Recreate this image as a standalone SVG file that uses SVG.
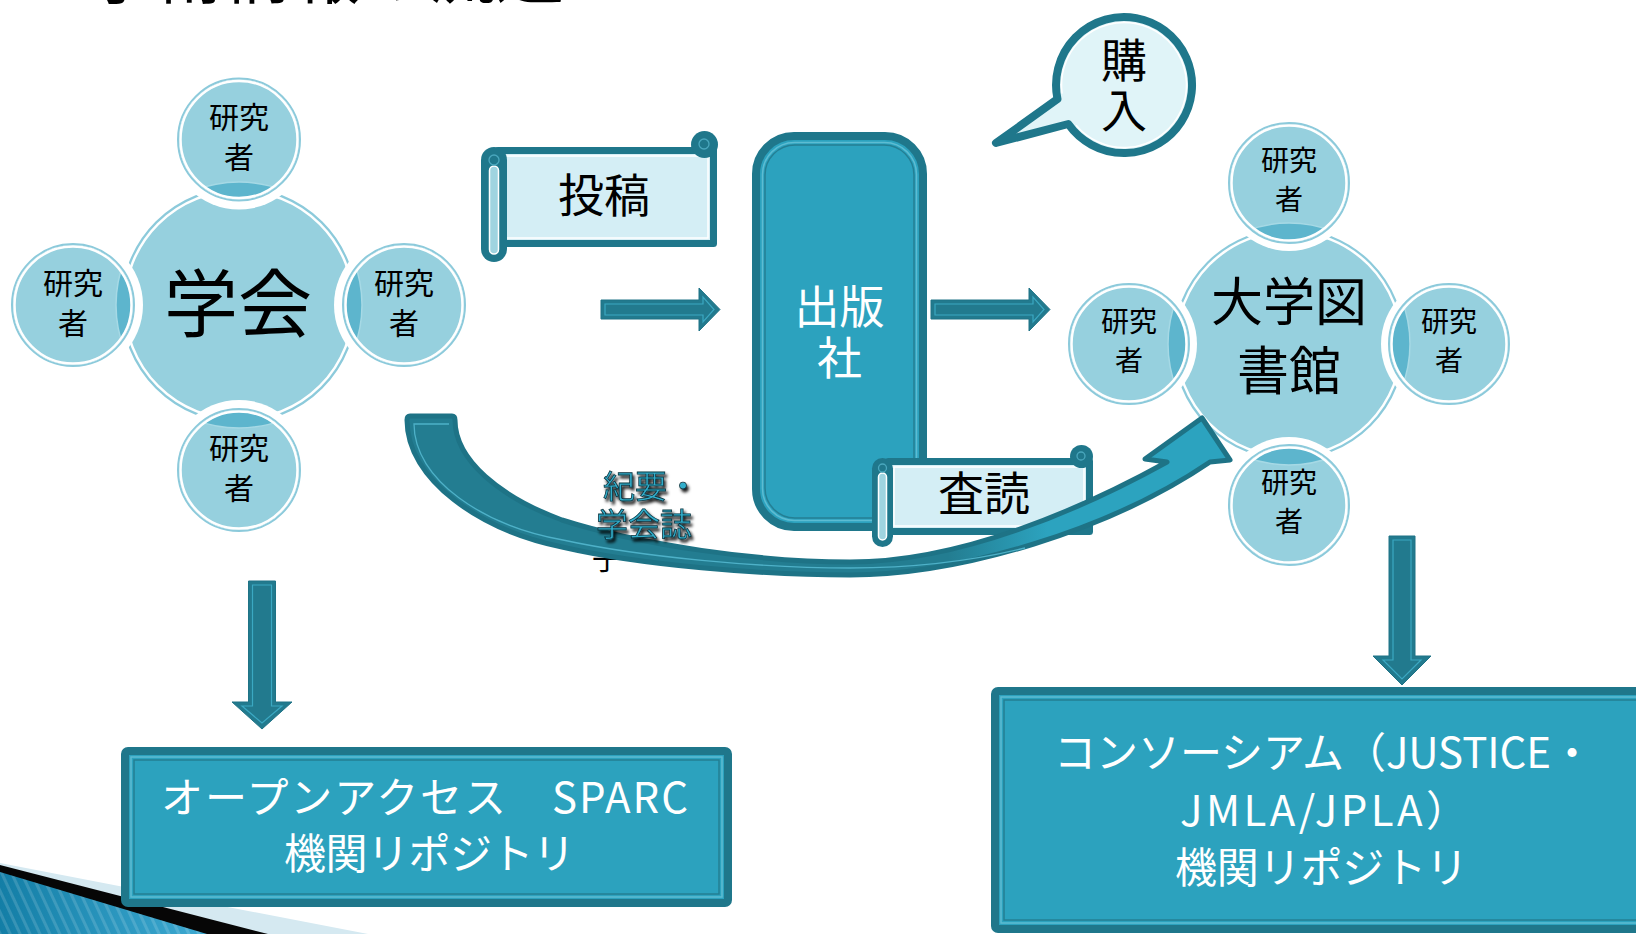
<svg xmlns="http://www.w3.org/2000/svg" width="1636" height="934" viewBox="0 0 1636 934">
<defs>
<style>
.t{font-family:"Noto Sans CJK JP","Noto Sans CJK SC",sans-serif;}
.sat{fill:#96d0de;}
.satline{fill:none;stroke:#8ccadb;stroke-width:2;}
.satin{fill:none;stroke:#ffffff;stroke-width:2.5;}
.gap{fill:#ffffff;}
.lens{fill:#5db5cd;}
.lensarc{fill:none;stroke:#a6d9e5;stroke-width:1.5;}
.st{font-size:30px;fill:#000;text-anchor:middle;}
.st2{font-size:28px;fill:#000;text-anchor:middle;}
.dark{fill:#1f778b;}
.box{fill:#2ca2be;stroke:#1f778b;stroke-width:8;}
.boxl1{fill:none;stroke:#5dbcd2;stroke-width:1.5;}
.boxl2{fill:none;stroke:#237f93;stroke-width:1.5;}
.arr{fill:#227a8e;stroke:#1f7386;stroke-width:1;}
.arrin{fill:none;stroke:#3ba8c2;stroke-width:1.2;}
.scroll{fill:#d4eef5;stroke:#1f778b;stroke-width:7;stroke-linejoin:round;}
.scrin{fill:none;stroke:#ffffff;stroke-width:1.5;}
.tube{fill:#9fd4e0;stroke:#ffffff;stroke-width:1.5;}
.curlc{fill:none;stroke:#4aa7bd;stroke-width:1.3;}
.wt{font-size:42px;fill:#fff;}
.bt{font-size:46px;fill:#000;text-anchor:middle;}
</style>
<clipPath id="cL1"><circle cx="239" cy="139.5" r="58"/></clipPath>
<clipPath id="cL2"><circle cx="73" cy="305" r="58"/></clipPath>
<clipPath id="cL3"><circle cx="404" cy="305" r="58"/></clipPath>
<clipPath id="cL4"><circle cx="239" cy="470" r="58"/></clipPath>
<clipPath id="cR1"><circle cx="1289" cy="183" r="57"/></clipPath>
<clipPath id="cR2"><circle cx="1129" cy="344" r="57"/></clipPath>
<clipPath id="cR3"><circle cx="1449" cy="344" r="57"/></clipPath>
<clipPath id="cR4"><circle cx="1289" cy="505" r="57"/></clipPath>
<linearGradient id="bandg" gradientUnits="userSpaceOnUse" x1="400" y1="0" x2="1230" y2="0">
<stop offset="0" stop-color="#237d91"/>
<stop offset="0.66" stop-color="#237d91"/>
<stop offset="0.78" stop-color="#2ca3bf"/>
<stop offset="1" stop-color="#2ca3bf"/>
</linearGradient>
<linearGradient id="blueg" gradientUnits="userSpaceOnUse" x1="0" y1="0" x2="210" y2="0">
<stop offset="0" stop-color="#137ea6"/>
<stop offset="1" stop-color="#3eaad2"/>
</linearGradient>
<pattern id="stripes" width="9" height="9" patternUnits="userSpaceOnUse" patternTransform="rotate(-25)">
<rect width="3" height="9" fill="#ffffff" opacity="0.14"/>
</pattern>
<filter id="ts" x="-20%" y="-30%" width="140%" height="160%">
<feDropShadow dx="2" dy="3" stdDeviation="1.4" flood-color="#000" flood-opacity="0.9"/>
</filter>
</defs>

<rect width="1636" height="934" fill="#ffffff"/>

<text class="t" x="88" y="-2" font-size="68" fill="#000">学術情報の流通</text>

<g id="decor">
<polygon points="0,863 368,934 0,934" fill="#d5e9f1"/>
<polygon points="0,865 268,934 0,934" fill="#060606"/>
<polygon points="0,872 207,934 0,934" fill="url(#blueg)"/>
<polygon points="0,872 207,934 0,934" fill="url(#stripes)"/>
</g>

<g id="gakkai">
<circle cx="239" cy="305" r="117" class="sat"/>
<circle cx="239" cy="305" r="117" class="satline"/>
<circle cx="239" cy="305" r="114.5" class="satin"/>
<text class="t" x="238" y="331" font-size="74" text-anchor="middle" fill="#000">学会</text>
</g>
<g id="gakkai-res-top">
<circle cx="239" cy="139.5" r="70" class="gap"/>
<circle cx="239" cy="139.5" r="60" class="sat"/>
<circle cx="239" cy="305" r="123" class="lens" clip-path="url(#cL1)"/>
<circle cx="239" cy="305" r="123" class="lensarc" clip-path="url(#cL1)"/>
<circle cx="239" cy="139.5" r="61" class="satline"/>
<circle cx="239" cy="139.5" r="58.5" class="satin"/>
<text class="t st"><tspan x="239" y="128">研究</tspan><tspan x="239" y="168">者</tspan></text>
</g>
<g id="gakkai-res-left">
<circle cx="73" cy="305" r="70" class="gap"/>
<circle cx="73" cy="305" r="60" class="sat"/>
<circle cx="239" cy="305" r="123" class="lens" clip-path="url(#cL2)"/>
<circle cx="239" cy="305" r="123" class="lensarc" clip-path="url(#cL2)"/>
<circle cx="73" cy="305" r="61" class="satline"/>
<circle cx="73" cy="305" r="58.5" class="satin"/>
<text class="t st"><tspan x="73" y="293.5">研究</tspan><tspan x="73" y="333.5">者</tspan></text>
</g>
<g id="gakkai-res-right">
<circle cx="404" cy="305" r="70" class="gap"/>
<circle cx="404" cy="305" r="60" class="sat"/>
<circle cx="239" cy="305" r="123" class="lens" clip-path="url(#cL3)"/>
<circle cx="239" cy="305" r="123" class="lensarc" clip-path="url(#cL3)"/>
<circle cx="404" cy="305" r="61" class="satline"/>
<circle cx="404" cy="305" r="58.5" class="satin"/>
<text class="t st"><tspan x="404" y="293.5">研究</tspan><tspan x="404" y="333.5">者</tspan></text>
</g>
<g id="gakkai-res-bottom">
<circle cx="239" cy="470" r="70" class="gap"/>
<circle cx="239" cy="470" r="60" class="sat"/>
<circle cx="239" cy="305" r="123" class="lens" clip-path="url(#cL4)"/>
<circle cx="239" cy="305" r="123" class="lensarc" clip-path="url(#cL4)"/>
<circle cx="239" cy="470" r="61" class="satline"/>
<circle cx="239" cy="470" r="58.5" class="satin"/>
<text class="t st"><tspan x="239" y="458.5">研究</tspan><tspan x="239" y="498.5">者</tspan></text>
</g>

<g id="library">
<circle cx="1289" cy="344" r="115" class="sat"/>
<circle cx="1289" cy="344" r="115" class="satline"/>
<circle cx="1289" cy="344" r="112.5" class="satin"/>
<text class="t" font-size="52" text-anchor="middle" fill="#000"><tspan x="1289" y="321">大学図</tspan><tspan x="1289" y="390">書館</tspan></text>
</g>
<g id="library-res-top">
<circle cx="1289" cy="183" r="68" class="gap"/>
<circle cx="1289" cy="183" r="59" class="sat"/>
<circle cx="1289" cy="344" r="121" class="lens" clip-path="url(#cR1)"/>
<circle cx="1289" cy="344" r="121" class="lensarc" clip-path="url(#cR1)"/>
<circle cx="1289" cy="183" r="60" class="satline"/>
<circle cx="1289" cy="183" r="57.5" class="satin"/>
<text class="t st2"><tspan x="1289" y="171">研究</tspan><tspan x="1289" y="209.5">者</tspan></text>
</g>
<g id="library-res-left">
<circle cx="1129" cy="344" r="68" class="gap"/>
<circle cx="1129" cy="344" r="59" class="sat"/>
<circle cx="1289" cy="344" r="121" class="lens" clip-path="url(#cR2)"/>
<circle cx="1289" cy="344" r="121" class="lensarc" clip-path="url(#cR2)"/>
<circle cx="1129" cy="344" r="60" class="satline"/>
<circle cx="1129" cy="344" r="57.5" class="satin"/>
<text class="t st2"><tspan x="1129" y="332">研究</tspan><tspan x="1129" y="370.5">者</tspan></text>
</g>
<g id="library-res-right">
<circle cx="1449" cy="344" r="68" class="gap"/>
<circle cx="1449" cy="344" r="59" class="sat"/>
<circle cx="1289" cy="344" r="121" class="lens" clip-path="url(#cR3)"/>
<circle cx="1289" cy="344" r="121" class="lensarc" clip-path="url(#cR3)"/>
<circle cx="1449" cy="344" r="60" class="satline"/>
<circle cx="1449" cy="344" r="57.5" class="satin"/>
<text class="t st2"><tspan x="1449" y="332">研究</tspan><tspan x="1449" y="370.5">者</tspan></text>
</g>
<g id="library-res-bottom">
<circle cx="1289" cy="505" r="68" class="gap"/>
<circle cx="1289" cy="505" r="59" class="sat"/>
<circle cx="1289" cy="344" r="121" class="lens" clip-path="url(#cR4)"/>
<circle cx="1289" cy="344" r="121" class="lensarc" clip-path="url(#cR4)"/>
<circle cx="1289" cy="505" r="60" class="satline"/>
<circle cx="1289" cy="505" r="57.5" class="satin"/>
<text class="t st2"><tspan x="1289" y="493">研究</tspan><tspan x="1289" y="531.5">者</tspan></text>
</g>

<g id="toukou">
<rect x="498" y="150.5" width="215.5" height="93" class="scroll"/>
<rect x="504" y="156" width="204" height="82" class="scrin"/>
<circle cx="704.5" cy="144.5" r="13.5" class="dark"/>
<circle cx="704" cy="144" r="5" class="curlc"/>
<rect x="481" y="147" width="26" height="115" rx="13" class="dark"/>
<rect x="489.5" y="166" width="9" height="88" rx="4.5" class="tube"/>
<circle cx="494" cy="160" r="5" class="curlc"/>
<text class="t bt" x="604" y="212">投稿</text>
</g>

<g id="publisher">
<rect x="756" y="136" width="167" height="391" rx="38" fill="#2ca2be" stroke="#1f778b" stroke-width="8"/>
<rect x="762.5" y="142.5" width="154" height="378" rx="32" fill="none" stroke="#5dbcd2" stroke-width="1.5"/>
<rect x="765" y="145" width="149" height="373" rx="30" fill="none" stroke="#247f94" stroke-width="1.5"/>
<text class="t" font-size="45" text-anchor="middle" fill="#fff"><tspan x="839.5" y="324">出版</tspan><tspan x="839.5" y="375">社</tspan></text>
</g>

<g id="sadoku">
<rect x="888.5" y="461.5" width="201" height="70" class="scroll"/>
<rect x="894" y="467" width="190" height="59" class="scrin"/>
<circle cx="1081.5" cy="456.5" r="11.5" class="dark"/>
<circle cx="1081" cy="456" r="4" class="curlc"/>
<rect x="872" y="458" width="21" height="89" rx="10.5" class="dark"/>
<rect x="878.5" y="473" width="8" height="67" rx="4" class="tube"/>
<circle cx="882.5" cy="468" r="4" class="curlc"/>
<text class="t bt" x="984" y="510">査読</text>
</g>

<text class="t" x="607" y="569" font-size="30" text-anchor="middle" fill="#000">子</text>

<g id="connectors">
<path d="M 410,416 L 452,416 Q 455,416 455,420 C 455,460 500,497 562,520 C 640,545 760,562 850,562 C 960,562 1080,510 1167,462 L 1145,459 L 1202,418 L 1230,460 L 1210,462 C 1110,530 960,575 850,575 C 760,575 640,565 562,547 C 480,530 407,480 407,420 Q 407,416 410,416 Z" fill="url(#bandg)" stroke="#1e7386" stroke-width="5" stroke-linejoin="round"/>
<path d="M 449,424 L 414,424 C 414,480 484,526 563,540 C 641,557 760,568 850,568 C 925,568 985,558 1025,548" fill="none" stroke="#4eb1c8" stroke-width="1.3"/>

<polygon class="arr" points="601,300 699,300 699,288 720,309.5 699,331 699,319 601,319"/>
<polygon class="arrin" points="605,304 703,304 703,297 714,309.5 703,322 703,315 605,315"/>
<polygon class="arr" points="931,300 1029,300 1029,288 1050,309.5 1029,331 1029,319 931,319"/>
<polygon class="arrin" points="935,304 1033,304 1033,297 1044,309.5 1033,322 1033,315 935,315"/>

<polygon class="arr" points="248.5,581 275.5,581 275.5,702 292,702 262,729 232,702 248.5,702"/>
<polygon class="arrin" points="252.5,585 271.5,585 271.5,706 282,706 262,723 242,706 252.5,706"/>
<polygon class="arr" points="1389,536 1415,536 1415,656 1431,656 1402,685 1373,656 1389,656"/>
<polygon class="arrin" points="1393,540 1411,540 1411,660 1421,660 1402,679 1383,660 1393,660"/>
</g>

<g id="kiyou-label" filter="url(#ts)">
<text class="t" font-size="32" fill="#33aecb" stroke="#0b2f3a" stroke-width="0.8"><tspan x="603" y="498">紀要・</tspan><tspan x="596" y="536">学会誌</tspan></text>
</g>

<g id="kounyuu">
<path d="M 1057.5,99.1 L 996,143 L 1068.3,124 A 68 68 0 1 0 1057.5,99.1 Z" fill="#e0f4f8" stroke="#1f778b" stroke-width="8" stroke-linejoin="round"/>
<path d="M 1076.1,125.2 A 62.5 62.5 0 1 0 1062.1,93.7" fill="none" stroke="#ffffff" stroke-width="1.5"/>
<text class="t" font-size="46" text-anchor="middle" fill="#000"><tspan x="1124" y="77">購</tspan><tspan x="1124" y="127">入</tspan></text>
</g>

<g id="openaccess">
<rect x="125" y="751" width="603" height="152" rx="3" class="box"/>
<rect x="131" y="757" width="591" height="140" class="boxl1"/>
<rect x="134" y="760" width="585" height="134" class="boxl2"/>
<text class="t wt" x="161" y="813" textLength="527">オープンアクセス　SPARC</text>
<text class="t wt" x="284" y="869" textLength="291">機関リポジトリ</text>
</g>

<g id="consortium">
<rect x="995" y="691" width="700" height="238" rx="3" class="box"/>
<rect x="1001" y="697" width="688" height="226" class="boxl1"/>
<rect x="1004" y="700" width="682" height="220" class="boxl2"/>
<text class="t wt" x="1054" y="768" textLength="539">コンソーシアム（JUSTICE・</text>
<text class="t wt" x="1180" y="826" textLength="288">JMLA/JPLA）</text>
<text class="t wt" x="1175" y="883" textLength="293">機関リポジトリ</text>
</g>
</svg>
